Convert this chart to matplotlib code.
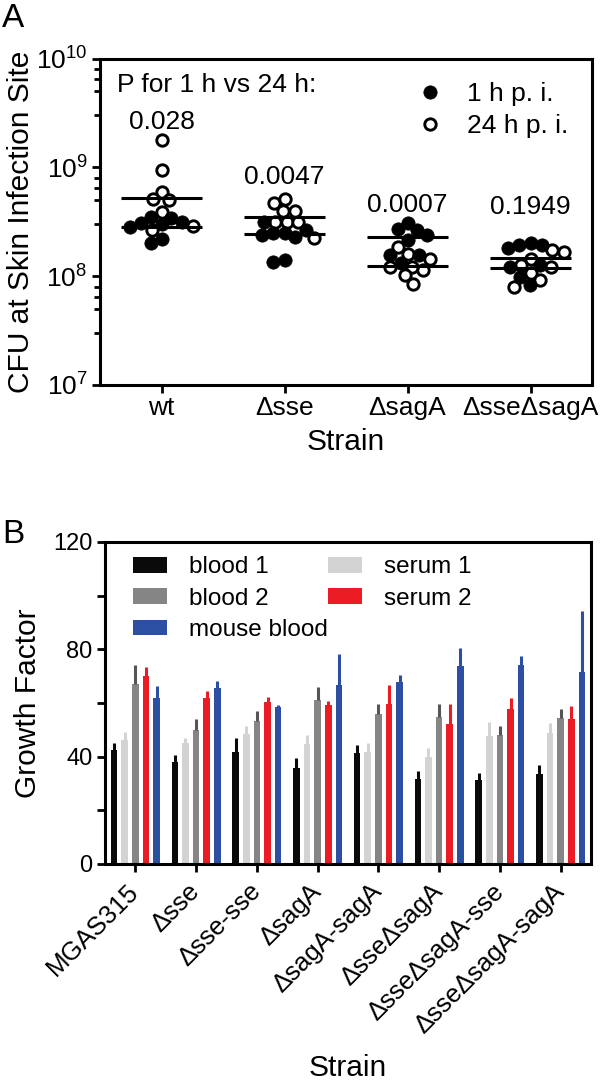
import numpy as np
import matplotlib
matplotlib.use("Agg")
import matplotlib.pyplot as plt
from matplotlib.ticker import LogLocator, FixedLocator, NullFormatter, MultipleLocator, LogFormatterSciNotation
from matplotlib.lines import Line2D
from matplotlib.patches import Patch

plt.rcParams['font.family'] = ['Liberation Sans', 'DejaVu Sans']
plt.rcParams['mathtext.fontset'] = 'custom'
plt.rcParams['mathtext.rm'] = 'Liberation Sans'
plt.rcParams['mathtext.it'] = 'Liberation Sans:italic'
plt.rcParams['mathtext.bf'] = 'Liberation Sans:bold'

# ---------------- Panel A data ----------------
strains_a = ['wt', 'Δsse', 'ΔsagA', 'ΔsseΔsagA']
cfu_1h_wt = [3.5e8, 3.15e8, 3.1e8, 3.4e8, 2.85e8, 3.0e8, 2.0e8, 2.2e8]
cfu_24h_wt = [1.78e9, 9.4e8, 5.96e8, 5.0e8, 5.1e8, 3.85e8, 2.88e8, 2.64e8]
cfu_1h_sse = [3.15e8, 2.47e8, 2.3e8, 2.38e8, 2.47e8, 1.35e8, 1.4e8, 2.64e8]
cfu_24h_sse = [4.66e8, 5.07e8, 3.98e8, 3.15e8, 3.15e8, 3.15e8, 2.22e8, 3.98e8]
cfu_1h_sagA = [3.05e8, 2.64e8, 2.14e8, 2.38e8, 2.69e8, 1.56e8, 1.56e8, 1.31e8]
cfu_24h_sagA = [1.86e8, 1.61e8, 1.45e8, 1.22e8, 1.13e8, 1.22e8, 1.02e8, 8.55e7]
cfu_1h_dbl = [1.8e8, 2.0e8, 1.92e8, 1.92e8, 1.26e8, 1.22e8, 9.85e7, 8.24e7]
cfu_24h_dbl = [1.67e8, 1.73e8, 1.26e8, 1.22e8, 1.06e8, 9.2e7, 7.96e7, 1.45e8]
mean_1h = [2.85e8, 2.45e8, 2.3e8, 1.48e8]
mean_24h = [5.2e8, 3.5e8, 1.23e8, 1.2e8]
p_values = ['0.028', '0.0047', '0.0007', '0.1949']

# ---------------- Panel B data ----------------
strains_b = ['MGAS315', 'Δsse', 'Δsse-sse', 'ΔsagA', 'ΔsagA-sagA',
             'ΔsseΔsagA', 'ΔsseΔsagA-sse', 'ΔsseΔsagA-sagA']
blood1 = [42.5, 38.1, 41.8, 35.6, 41.5, 31.7, 31.3, 33.4]
blood1_err = [2.5, 2.7, 5.3, 4.0, 2.9, 3.1, 2.7, 3.5]
serum1 = [46.2, 45.2, 48.5, 44.9, 41.6, 40.0, 47.7, 49.0]
serum1_err = [3.1, 1.6, 3.1, 3.2, 3.4, 3.3, 5.1, 3.6]
blood2 = [67.0, 50.0, 53.3, 61.3, 55.9, 54.6, 48.1, 54.3]
blood2_err = [7.2, 4.1, 3.6, 4.5, 3.9, 5.0, 3.5, 3.3]
serum2 = [70.1, 62.0, 60.2, 59.3, 59.5, 52.0, 57.6, 54.1]
serum2_err = [3.5, 2.6, 2.2, 1.5, 7.1, 7.6, 4.4, 4.9]
mouse = [61.7, 65.7, 58.4, 66.7, 67.7, 73.8, 74.2, 71.7]
mouse_err = [4.7, 2.6, 0.9, 11.6, 2.7, 6.6, 3.3, 22.7]

W, H = 600, 1086
fig = plt.figure(figsize=(W / 100, H / 100), dpi=100)


def px_axes(l, r, t, b):
    return fig.add_axes([l / W, 1 - b / H, (r - l) / W, (b - t) / H])


SPINE = 2.2
TICKFS_A = 19
LABELFS = 21.5

# ================= Panel A =================
axA = px_axes(100, 592, 58.5, 385)
axA.set_yscale('log')
axA.set_ylim(1e7, 1e10)
axA.set_xlim(-0.5, 3.5)
for s in ['top', 'right', 'left', 'bottom']:
    axA.spines[s].set_linewidth(SPINE)

groups_1h = [cfu_1h_wt, cfu_1h_sse, cfu_1h_sagA, cfu_1h_dbl]
groups_24h = [cfu_24h_wt, cfu_24h_sse, cfu_24h_sagA, cfu_24h_dbl]

fig.canvas.draw()
x_ppu = axA.transData.transform((1, 1e8))[0] - axA.transData.transform((0, 1e8))[0]


def swarm(xc, vals, d_px):
    pts = axA.transData.transform(np.column_stack([np.full(len(vals), xc), vals]))
    ys = pts[:, 1]
    order = np.argsort(-ys)
    placed = []
    offs = np.zeros(len(vals))
    for i in order:
        y = ys[i]
        cands = [0.0]
        for (px, py) in placed:
            dy = y - py
            if abs(dy) < d_px:
                dx = np.sqrt(d_px ** 2 - dy ** 2)
                cands += [px + dx, px - dx]
        cands = sorted(cands, key=lambda c: (abs(c), c))
        for c in cands:
            if all((c - px) ** 2 + (y - py) ** 2 >= d_px ** 2 - 1e-6 for px, py in placed):
                offs[i] = c
                placed.append((c, y))
                break
    return xc + offs / x_ppu


for i in range(len(strains_a)):
    v1 = np.array(groups_1h[i])
    v24 = np.array(groups_24h[i])
    allv = np.concatenate([v24, v1])
    xs = swarm(i, allv, 11.5)
    x24, x1 = xs[:len(v24)], xs[len(v24):]
    axA.plot(x24, v24, 'o', ms=8.2, mfc='white', mec='black', mew=2.1, zorder=3, clip_on=False)
    axA.plot(x1, v1, 'o', ms=9.6, mfc='black', mec='black', mew=0.5, zorder=4, clip_on=False)
    axA.hlines([mean_1h[i], mean_24h[i]], i - 0.33, i + 0.33, colors='black', lw=2.2, zorder=5)

p_text_y = [2.6e9, 8.1e8, 4.5e8, 4.3e8]
for i, p in enumerate(p_values):
    axA.text(i, p_text_y[i], p, ha='center', va='center', fontsize=TICKFS_A)
axA.text(0.035, 0.919, 'P for 1 h vs 24 h:', transform=axA.transAxes,
         ha='left', va='center', fontsize=TICKFS_A)

axA.set_xticks(range(len(strains_a)))
axA.set_xticklabels(strains_a, fontsize=TICKFS_A)
axA.tick_params(axis='x', which='major', length=6, width=2, pad=2)
axA.yaxis.set_major_locator(FixedLocator([1e7, 1e8, 1e9, 1e10]))
axA.yaxis.set_major_formatter(LogFormatterSciNotation())
axA.yaxis.set_minor_locator(LogLocator(base=10, subs=[3, 5, 6.5, 8]))
axA.yaxis.set_minor_formatter(NullFormatter())
axA.tick_params(axis='y', which='major', length=6, width=2, labelsize=TICKFS_A, pad=3)
axA.tick_params(axis='y', which='minor', length=4, width=2)
axA.set_ylabel('CFU at Skin Infection Site', fontsize=LABELFS, labelpad=1)
axA.set_xlabel('Strain', fontsize=LABELFS, labelpad=6)

legA = axA.legend(handles=[
    Line2D([], [], marker='o', ls='none', ms=9.6, mfc='black', mec='black', mew=0.5),
    Line2D([], [], marker='o', ls='none', ms=8.2, mfc='white', mec='black', mew=2.1)],
    labels=['1 h p. i.', '24 h p. i.'], loc='center left',
    bbox_to_anchor=(0.644, 0.842), frameon=False, fontsize=TICKFS_A,
    handlelength=1.0, handletextpad=0.9, labelspacing=0.32, borderpad=0, borderaxespad=0)

# ================= Panel B =================
axB = px_axes(105, 591, 542, 864)
axB.set_xlim(-0.5, 7.5)
axB.set_ylim(0, 120)
for s in ['top', 'right', 'left', 'bottom']:
    axB.spines[s].set_linewidth(SPINE)

x = np.arange(len(strains_b))
step = 0.175
bw = 0.108
series = [
    (blood1, blood1_err, '#0a0a0a', '#0a0a0a', 'blood 1'),
    (serum1, serum1_err, '#d3d3d3', '#d3d3d3', 'serum 1'),
    (blood2, blood2_err, '#858585', '#555555', 'blood 2'),
    (serum2, serum2_err, '#ec1c24', '#ec1c24', 'serum 2'),
    (mouse, mouse_err, '#2c4ea3', '#2c4ea3', 'mouse blood'),
]
handles = {}
for k, (vals, errs, col, ecol, lab) in enumerate(series):
    xp = x + (k - 2) * step
    axB.bar(xp, vals, width=bw, color=col, zorder=2)
    axB.errorbar(xp, vals, yerr=[np.zeros(len(vals)), errs], fmt='none',
                 ecolor=ecol, elinewidth=2.2, capsize=0, zorder=3)
    handles[lab] = Patch(facecolor=col, edgecolor='none')

order = ['blood 1', 'blood 2', 'mouse blood', 'serum 1', 'serum 2']
axB.legend([handles[o] for o in order], order, ncol=2, loc='upper left',
           bbox_to_anchor=(0.0576, 0.955), frameon=False, fontsize=17.5,
           handlelength=1.4, handleheight=0.6, handletextpad=0.9,
           labelspacing=0.38, columnspacing=0.0, borderpad=0, borderaxespad=0)

axB.yaxis.set_major_locator(MultipleLocator(40))
axB.yaxis.set_minor_locator(MultipleLocator(20))
axB.tick_params(axis='y', which='major', length=6, width=2, labelsize=17, pad=3)
axB.tick_params(axis='y', which='minor', length=6, width=2)
axB.set_xticks(x)
axB.set_xticklabels(strains_b, rotation=45, ha='right', va='center',
                    rotation_mode='anchor', fontsize=18.5)
axB.tick_params(axis='x', which='major', length=6, width=2, pad=11)
axB.set_ylabel('Growth Factor', fontsize=21.5, labelpad=8)
axB.set_xlabel('Strain', fontsize=21.5, labelpad=12)

fig.text(2 / W, 1 - 27 / H, 'A', fontsize=24, ha='left', va='baseline')
fig.text(2 / W, 1 - 543 / H, 'B', fontsize=24, ha='left', va='baseline')

fig.savefig('out.png', dpi=100)
